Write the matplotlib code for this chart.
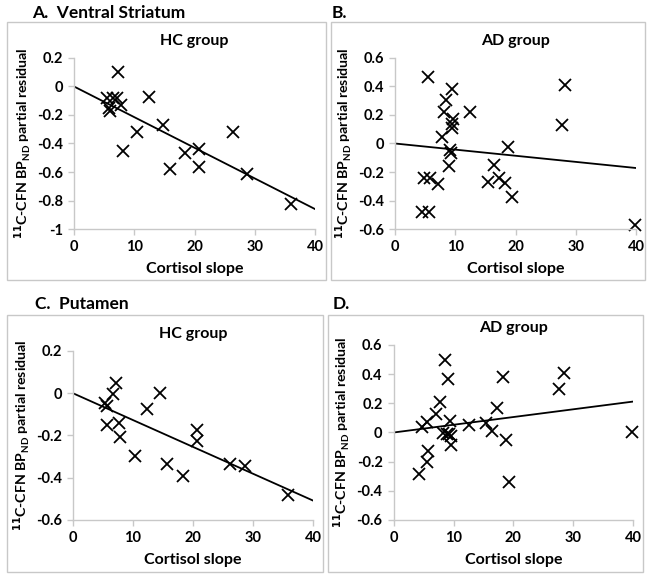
import numpy as np
import matplotlib
matplotlib.use("Agg")
import matplotlib.pyplot as plt
from matplotlib.patches import Rectangle

plt.rcParams['font.family'] = ['Lato', 'DejaVu Sans']
plt.rcParams['font.weight'] = 'bold'
plt.rcParams['mathtext.default'] = 'bf'

# ---- data ----
# A. Ventral Striatum, HC group
vs_hc_x = [7.3, 5.4, 6.4, 7.1, 7.8, 5.8, 5.9, 12.5, 10.4, 14.7, 8.1, 16.0, 18.5, 20.7, 20.7, 26.4, 28.7, 36.0]
vs_hc_y = [0.10, -0.08, -0.08, -0.08, -0.13, -0.15, -0.17, -0.075, -0.317, -0.268, -0.456, -0.58, -0.47, -0.437, -0.563, -0.32, -0.615, -0.822]
vs_hc_slope = -0.0215

# B. Ventral Striatum, AD group
vs_ad_x = [5.5, 9.4, 8.5, 8.2, 9.7, 9.5, 9.5, 7.8, 12.5, 9.1, 9.3, 9.0, 4.8, 5.8, 7.1, 4.4, 5.6,
           18.7, 16.4, 15.4, 17.2, 18.3, 19.4, 28.2, 27.7, 39.8]
vs_ad_y = [0.465, 0.384, 0.307, 0.221, 0.17, 0.14, 0.107, 0.049, 0.219, -0.044, -0.07, -0.16, -0.24, -0.242, -0.286, -0.48, -0.48,
           -0.028, -0.151, -0.27, -0.242, -0.279, -0.377, 0.409, 0.132, -0.575]
vs_ad_slope = -0.0043

# C. Putamen, HC group
pu_hc_x = [7.1, 6.7, 5.4, 5.7, 5.75, 7.6, 7.9, 12.4, 14.5, 10.3, 15.7, 18.4, 20.7, 20.75, 26.2, 28.6, 35.9]
pu_hc_y = [0.05, -0.003, -0.047, -0.06, -0.149, -0.142, -0.205, -0.073, 0.0, -0.295, -0.335, -0.39, -0.174, -0.228, -0.333, -0.344, -0.481]
pu_hc_slope = -0.0127

# D. Putamen, AD group
pu_ad_x = [8.5, 9.1, 7.7, 7.0, 5.5, 4.7, 9.4, 8.3, 8.9, 9.2, 9.5, 9.5, 5.8, 5.5, 4.2,
           12.5, 15.4, 16.4, 17.2, 18.2, 18.8, 19.3, 28.4, 27.7, 39.9]
pu_ad_y = [0.50, 0.366, 0.21, 0.126, 0.069, 0.041, 0.08, -0.002, -0.007, -0.01, -0.025, -0.087, -0.13, -0.2, -0.286,
           0.05, 0.064, 0.01, 0.167, 0.378, -0.05, -0.34, 0.41, 0.295, 0.0]
pu_ad_slope = 0.0053

panels = [
    # label, title, x, y, slope, ylim, yticks, axes rect, frame rect, label pos
    ("A.  Ventral Striatum", "HC group", vs_hc_x, vs_hc_y, vs_hc_slope, (-1, 0.2), np.arange(-1, 0.21, 0.2),
     [0.1137, 0.6031, 0.3702, 0.2964], (7, 22, 326, 280), (32, 13)),
    ("B.", "AD group", vs_ad_x, vs_ad_y, vs_ad_slope, (-0.6, 0.6), np.arange(-0.6, 0.61, 0.2),
     [0.6068, 0.6031, 0.3702, 0.2964], (331, 22, 645, 280), (332, 13)),
    ("C.  Putamen", "HC group", pu_hc_x, pu_hc_y, pu_hc_slope, (-0.6, 0.2), np.arange(-0.6, 0.21, 0.2),
     [0.1121, 0.0988, 0.3687, 0.2929], (7, 315, 323, 572), (35, 304)),
    ("D.", "AD group", pu_ad_x, pu_ad_y, pu_ad_slope, (-0.6, 0.6), np.arange(-0.6, 0.61, 0.2),
     [0.6048, 0.0988, 0.3676, 0.3033], (328, 315, 643, 572), (333, 304)),
]

W, H = 651, 577
fig = plt.figure(figsize=(W / 100, H / 100), dpi=100)

def fmt(v):
    v = round(v, 1)
    if abs(v) < 1e-9:
        return "0"
    if v == int(v):
        return "%d" % v
    return ("%.1f" % v)

for label, title, xs, ys, slope, ylim, yticks, rect, frame, lpos in panels:
    x0, y0, x1, y1 = frame
    fig.patches.append(Rectangle((x0 / W, 1 - y1 / H), (x1 - x0) / W, (y1 - y0) / H,
                                 transform=fig.transFigure, fill=False, ec="#c8c8c8", lw=1.0))
    fig.text(lpos[0] / W, 1 - lpos[1] / H, label, fontsize=12.5, fontweight='bold', va='center', ha='left')

    ax = fig.add_axes(rect)
    fx = np.array([0, 40])
    ax.plot(fx, slope * fx, color='black', lw=1.3)
    ax.plot(xs, ys, 'x', color='black', ms=8, mew=1.3, clip_on=False)
    ax.set_xlim(0, 40)
    ax.set_ylim(*ylim)
    ax.set_xticks([0, 10, 20, 30, 40])
    ax.set_yticks(yticks)
    ax.set_yticklabels([fmt(v) for v in yticks])
    for s in ['top', 'right']:
        ax.spines[s].set_visible(False)
    for s in ['left', 'bottom']:
        ax.spines[s].set_color('#c8c8c8')
        ax.spines[s].set_linewidth(1.0)
    ax.tick_params(axis='both', colors='#c8c8c8', length=4, width=1.0, labelsize=10.5, labelcolor='black', pad=4)
    for t in ax.get_xticklabels() + ax.get_yticklabels():
        t.set_fontweight('bold')
    ax.set_title(title, fontsize=11.5, fontweight='bold', pad=9)
    ax.set_xlabel("Cortisol slope", fontsize=11.5, fontweight='bold', labelpad=6)
    ax.set_ylabel(r"$^{11}$C-CFN BP$_{\mathregular{ND}}$ partial residual", fontsize=10.2,
                  fontweight='bold', labelpad=3)
    ax.patch.set_alpha(0)

fig.savefig("out.png", dpi=100)
